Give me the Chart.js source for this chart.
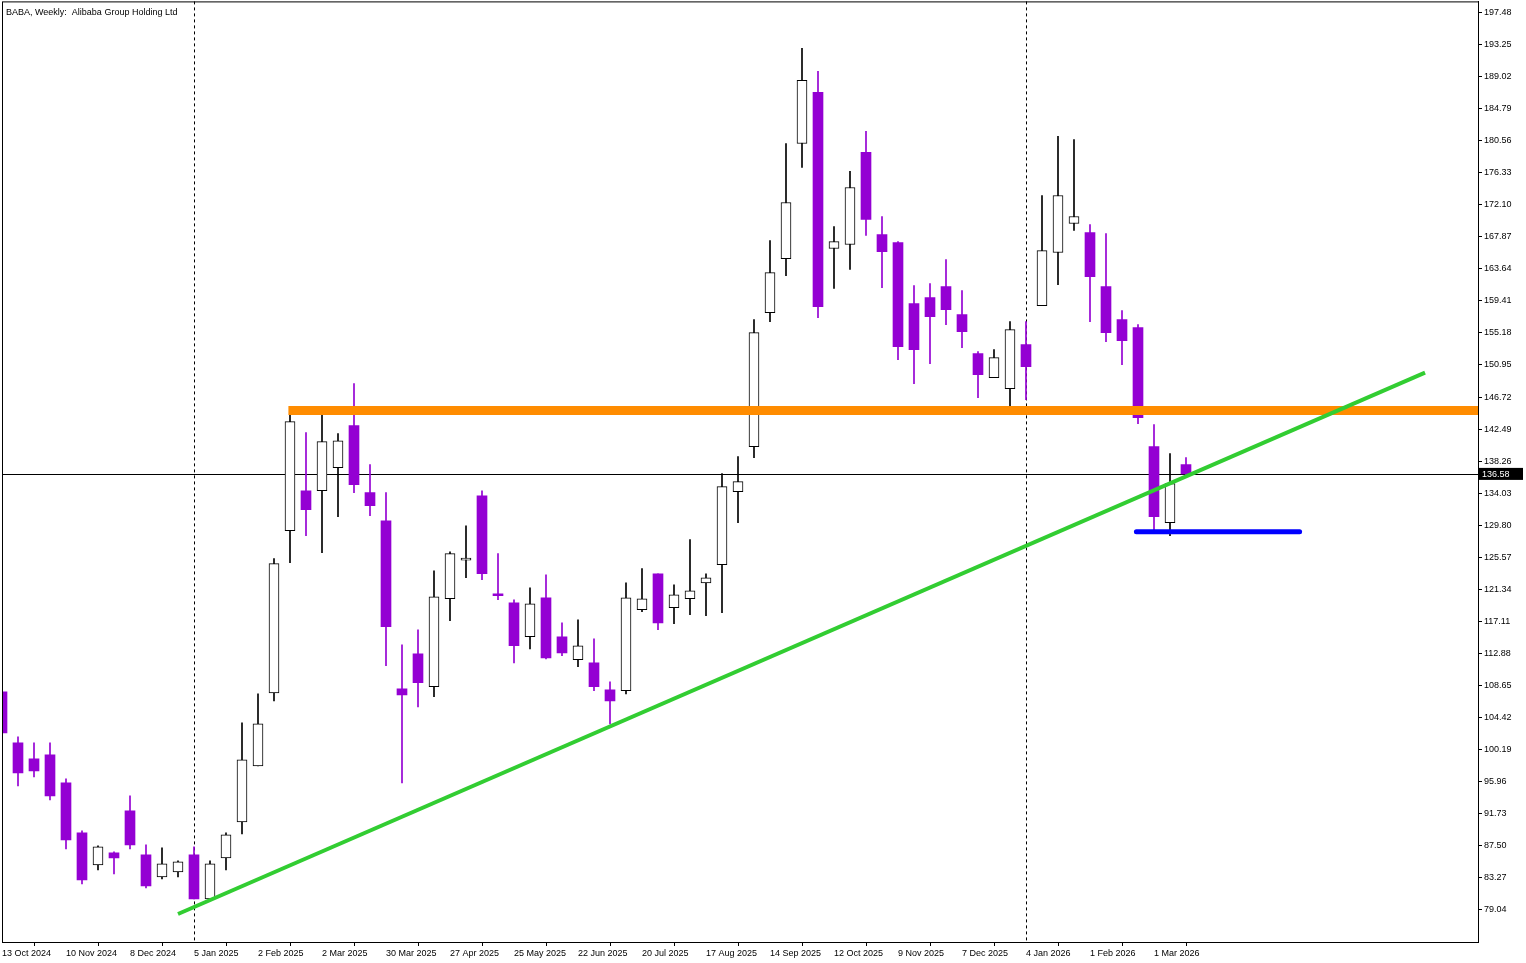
<!DOCTYPE html>
<html><head><meta charset="utf-8">
<script src="https://cdn.jsdelivr.net/npm/chart.js@4"></script>
<style>html,body{margin:0;padding:0;background:#fff;overflow:hidden}#wrap{width:1526px;height:969px;margin-top:-6px}</style>
</head><body><div id="wrap"><canvas id="c"></canvas></div>
<script>
const dates = ["13 Oct 2024","10 Nov 2024","8 Dec 2024","5 Jan 2025","2 Feb 2025","2 Mar 2025","30 Mar 2025","27 Apr 2025","25 May 2025","22 Jun 2025","20 Jul 2025","17 Aug 2025","14 Sep 2025","12 Oct 2025","9 Nov 2025","7 Dec 2025","4 Jan 2026","1 Feb 2026","1 Mar 2026"];
const opens  = [107.83,101.09,98.98,99.50,95.81,89.21,84.98,86.57,92.11,86.30,83.40,84.05,86.30,80.49,85.91,90.66,98.05,107.69,129.08,134.36,134.36,137.40,142.95,134.10,130.40,108.22,112.84,108.49,120.10,125.20,133.70,120.70,119.57,115.09,120.23,115.09,112.05,111.65,108.09,107.96,118.65,123.40,118.92,120.10,122.21,124.60,134.23,140.17,157.87,164.99,180.18,186.92,166.32,166.85,179.00,168.17,167.11,159.06,159.85,161.30,157.60,152.45,149.28,147.83,153.64,158.79,165.79,169.62,168.43,161.30,156.94,155.89,140.17,130.14,137.80];
const highs  = [108.10,101.88,101.09,101.09,96.34,89.47,87.49,86.70,94.09,87.62,87.23,85.51,87.36,85.51,89.21,103.73,107.56,125.39,145.32,142.02,145.32,141.89,148.49,137.80,134.10,114.03,116.01,123.80,126.31,129.74,134.36,126.05,119.97,121.56,123.27,116.93,117.33,114.82,109.14,122.21,124.07,123.40,121.95,127.90,123.40,136.61,138.85,156.94,167.37,180.18,192.73,189.69,169.22,176.49,181.77,170.54,167.24,161.43,161.70,164.86,160.77,152.72,152.98,156.68,156.68,173.32,181.11,180.71,169.49,168.30,158.13,156.28,143.08,139.25,138.72];
const lows   = [102.20,95.41,96.60,93.56,87.09,82.47,84.32,83.79,87.09,81.94,83.13,83.40,80.49,80.49,84.32,89.07,98.05,106.63,124.86,128.42,126.18,130.93,134.10,131.06,111.26,95.81,105.84,107.17,117.20,122.88,122.61,119.97,111.65,113.50,112.18,112.58,111.13,107.96,103.60,107.56,118.39,116.01,116.80,117.99,117.86,118.26,130.14,138.72,156.68,162.75,177.01,157.21,161.04,163.55,168.04,161.17,151.66,148.49,151.13,156.28,153.25,146.64,149.28,145.59,146.38,158.79,161.56,168.70,156.68,154.04,150.99,143.21,128.68,128.42,136.40];
const closes = [102.41,97.13,97.39,94.09,88.28,82.99,87.36,85.91,87.62,82.21,85.11,85.38,80.49,85.11,88.94,98.84,103.60,124.73,143.47,131.85,140.83,140.96,135.15,132.38,116.41,107.43,109.02,120.37,126.05,125.30,123.40,120.50,113.90,119.44,112.31,112.97,113.90,108.49,106.63,120.23,120.10,116.93,120.63,121.16,122.88,134.89,135.55,155.22,163.15,172.39,188.50,158.66,167.24,174.37,170.15,165.92,153.38,152.98,157.34,158.26,155.36,149.68,151.93,155.62,150.74,166.05,173.32,170.54,162.62,155.23,154.17,144.00,130.93,135.29,136.58];
const yTicks = [79.04,83.27,87.50,91.73,95.96,100.19,104.42,108.65,112.88,117.11,121.34,125.57,129.80,134.03,138.26,142.49,146.72,150.95,155.18,159.41,163.64,167.87,172.10,176.33,180.56,184.79,189.02,193.25,197.48];
const lastPrice = 136.58;
const resistance = {from: 17.9, to: 92.25, price: 144.93};
const trendLine = [{x: 11.0, y: 78.51}, {x: 88.94, y: 149.94}];
const support = {from: 70.9, to: 81.1, price: 128.95};
const separators = [12, 64];

const PURPLE = '#9400d3';
const FONT = 'Liberation Sans';
const bull = i => closes[i] >= opens[i];
const idx = opens.map((_, i) => i);

const overlay = {
  id: 'overlay',
  beforeDatasetsDraw(ch) {
    const {ctx, chartArea: a, scales: {x, y}} = ch;
    ctx.save();
    ctx.strokeStyle = '#000'; ctx.lineWidth = 1; ctx.setLineDash([3, 3]);
    separators.forEach(s => { const px = Math.round(x.getPixelForValue(s)) + 0.5; ctx.beginPath(); ctx.moveTo(px, a.top); ctx.lineTo(px, a.bottom); ctx.stroke(); });
    ctx.setLineDash([]);
    const py = Math.round(y.getPixelForValue(lastPrice)) + 0.5;
    ctx.beginPath(); ctx.moveTo(a.left, py); ctx.lineTo(a.right, py); ctx.stroke();
    ctx.restore();
  },
  afterDraw(ch) {
    const {ctx, chartArea: a, scales: {y}} = ch;
    ctx.save();
    ctx.strokeStyle = '#000'; ctx.lineWidth = 1;
    ctx.strokeRect(a.left + 0.5, a.top + 0.5, a.right - a.left, a.bottom - a.top);
    ctx.font = '9px "' + FONT + '"'; ctx.fillStyle = '#000'; ctx.textBaseline = 'top';
    ctx.fillText('BABA, Weekly:  Alibaba Group Holding Ltd', a.left + 4, a.top + 7);
    const py = y.getPixelForValue(lastPrice);
    ctx.fillStyle = '#000'; ctx.fillRect(a.right + 1, py - 6, 44, 12);
    ctx.fillStyle = '#fff'; ctx.textBaseline = 'middle';
    ctx.fillText(lastPrice.toFixed(2), a.right + 4, py + 0.5);
    ctx.restore();
  }
};

new Chart(document.getElementById('c'), {
  data: {
    datasets: [
      {type: 'line', data: [{x: resistance.from, y: resistance.price}, {x: resistance.to, y: resistance.price}], borderColor: '#ff8c00', borderWidth: 9, pointRadius: 0, order: 1, borderCapStyle: 'butt'},
      {type: 'line', data: trendLine, borderColor: '#32cd32', borderWidth: 4, pointRadius: 0, order: 0},
      {type: 'line', data: [{x: support.from, y: support.price}, {x: support.to, y: support.price}], borderColor: '#0000ff', borderWidth: 5, pointRadius: 0, order: 0, borderCapStyle: 'round'},
      {type: 'bar', data: idx.map(i => ({x: i, y: [lows[i], highs[i]]})), backgroundColor: idx.map(i => bull(i) ? '#000' : PURPLE), barThickness: 1, grouped: false, order: 3},
      {type: 'bar', data: idx.map(i => ({x: i, y: [opens[i], closes[i]]})), backgroundColor: idx.map(i => bull(i) ? '#fff' : PURPLE), borderColor: idx.map(i => bull(i) ? '#000' : PURPLE), borderWidth: idx.map(i => bull(i) ? 1 : 0), borderSkipped: false, barThickness: 10, minBarLength: 2, grouped: false, order: 2}
    ]
  },
  options: {
    responsive: true, maintainAspectRatio: false, animation: false,
    layout: {padding: {left: 2, top: 2, right: 0, bottom: 0}},
    plugins: {legend: {display: false}, tooltip: {enabled: false}},
    scales: {
      x: {type: 'linear', min: 0, max: 92.25, offset: false,
        afterBuildTicks: s => { s.ticks = dates.map((d, i) => ({value: i * 4})); },
        afterFit: s => { s.height = 21; },
        ticks: {autoSkip: false, maxRotation: 0, align: 'start', padding: 2, color: '#000', font: {family: FONT, size: 9},
          callback: (v) => dates[Math.round(v / 4)] || ''},
        grid: {drawOnChartArea: false, tickLength: 4, color: '#000'}, border: {color: '#000'}},
      y: {position: 'right', min: 74.81, max: 198.93,
        afterBuildTicks: s => { s.ticks = yTicks.map(v => ({value: v})); },
        afterFit: s => { s.width = 48; },
        ticks: {autoSkip: false, padding: 2, color: '#000', font: {family: FONT, size: 9}, callback: v => v.toFixed(2)},
        grid: {drawOnChartArea: false, tickLength: 4, color: '#000'}, border: {color: '#000'}}
    }
  },
  plugins: [overlay]
});
</script></body></html>
